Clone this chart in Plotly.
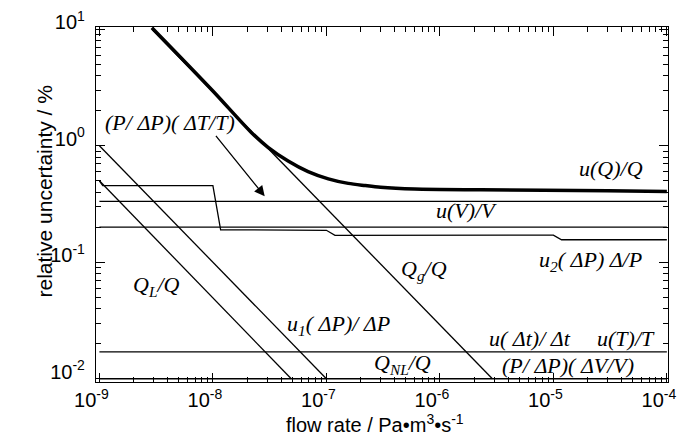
import plotly.graph_objects as go
import numpy as np

# ---- data ----
x_min, x_max = 1e-9, 1e-4

# total relative uncertainty u(Q)/Q (thick curve)
uQ_x = [2.9e-9, 1e-8, 2.18e-8, 3.06e-8, 4.6e-8, 6.9e-8, 1.04e-7, 1.56e-7, 2.2e-7, 3e-7, 6e-7, 2.3e-6, 3e-5, 1e-4]
uQ_y = [10.3, 2.95, 1.3, 0.97, 0.74, 0.60, 0.52, 0.475, 0.455, 0.44, 0.425, 0.418, 0.41, 0.405]

# constant components
dT_val = 0.333     # (P/ΔP)(ΔT/T)
uV_val = 0.20      # u(V)/V
ut_val = 0.017     # u(Δt)/Δt, u(T)/T
QNL_val = 0.010    # Q_NL/Q, (P/ΔP)(ΔV/V)

# u2(ΔP)/ΔP step line
u2_x = [1e-9, 1.07e-9, 1e-8, 1.17e-8, 1e-7, 1.19e-7, 1e-5, 1.18e-5, 1e-4]
u2_y = [0.50, 0.454, 0.454, 0.19, 0.188, 0.17, 0.171, 0.156, 0.156]

# slope -1 components
u1_x = [1e-9, 1e-7]
u1_y = [1.0, 0.01]
QL_x = [1e-9, 4.9e-8]
QL_y = [0.5, 0.01]
Qg_x = [2.9e-9, 2.9e-6]
Qg_y = [10.0, 0.01]

x_ticks = [1e-9, 1e-8, 1e-7, 1e-6, 1e-5, 1e-4]
x_tick_text = ["10<sup>-9</sup>", "10<sup>-8</sup>", "10<sup>-7</sup>", "10<sup>-6</sup>", "10<sup>-5</sup>", "10<sup>-4</sup>"]
y_ticks = [1e-2, 1e-1, 1e0, 1e1]
y_tick_text = ["10<sup>-2</sup>", "10<sup>-1</sup>", "10<sup>0</sup>", "10<sup>1</sup>"]
minor_digits = [2, 3, 4, 5, 6, 7, 8, 9]

x_minor = [d * t for t in x_ticks[:-1] for d in minor_digits]
y_minor = [d * t for t in y_ticks[:-1] for d in minor_digits]

fig = go.Figure()
thin = dict(color="black", width=1.3)

for yv in [dT_val, uV_val, ut_val, QNL_val]:
    fig.add_trace(go.Scatter(x=[x_min, x_max], y=[yv, yv], mode="lines", line=thin, showlegend=False))

fig.add_trace(go.Scatter(x=u2_x, y=u2_y, mode="lines", line=thin, showlegend=False))
fig.add_trace(go.Scatter(x=u1_x, y=u1_y, mode="lines", line=thin, showlegend=False))
fig.add_trace(go.Scatter(x=QL_x, y=QL_y, mode="lines", line=thin, showlegend=False))
fig.add_trace(go.Scatter(x=Qg_x, y=Qg_y, mode="lines", line=thin, showlegend=False))
fig.add_trace(go.Scatter(x=uQ_x, y=uQ_y, mode="lines",
                         line=dict(color="black", width=3.5, shape="spline", smoothing=0.8),
                         showlegend=False))

tick_font = dict(family="Liberation Sans, Arial", size=20, color="black")
axis_common = dict(
    type="log", showline=True, linecolor="black", linewidth=1.3, mirror="ticks",
    ticks="inside", ticklen=9, tickwidth=1.2, tickcolor="black",
    showgrid=False, zeroline=False, tickfont=tick_font, automargin=False,
    ticklabeloverflow="allow",
)

fig.update_xaxes(range=[np.log10(x_min) - 0.03, np.log10(x_max) + 0.01],
                 tickmode="array", tickvals=x_ticks, ticktext=x_tick_text,
                 minor=dict(tickmode="array", tickvals=x_minor, ticks="inside", ticklen=5,
                            tickwidth=1, tickcolor="black", showgrid=False),
                 ticklabelstandoff=0, ticklabelshift=-8, **axis_common)
fig.update_yaxes(range=[-2.028, 1.019],
                 tickmode="array", tickvals=y_ticks, ticktext=y_tick_text,
                 minor=dict(tickmode="array", tickvals=y_minor, ticks="inside", ticklen=5,
                            tickwidth=1, tickcolor="black", showgrid=False),
                 ticklabelstandoff=6, ticklabelshift=-7, **axis_common)

lab_font = dict(family="Liberation Serif, Times New Roman", size=22, color="black", style="italic")

labels = [
    ("(P/ ΔP)( ΔT/T)", 162, 115),
    ("u(Q)/Q", 603, 160),
    ("u(V)/V", 458, 202),
    ("u<sub>2</sub>( ΔP) Δ/P", 582, 253),
    ("Q<sub>g</sub>/Q", 416, 262),
    ("u<sub>1</sub>( ΔP)/ ΔP", 330, 317),
    ("Q<sub>L</sub>/Q", 148, 278),
    ("u( Δt)/ Δt", 522, 330),
    ("u(T)/T", 618, 330),
    ("Q<sub>NL</sub>/Q", 394, 356),
    ("(P/ ΔP)( ΔV/V)", 560, 357),
]

L, R, T, B = 88, 660, 19, 374
def px2paper(px, py):
    return (px - L) / (R - L), (B - py) / (B - T)

for text, px, py in labels:
    xp, yp = px2paper(px, py)
    fig.add_annotation(text=text, x=xp, y=yp, xref="paper", yref="paper",
                       showarrow=False, font=lab_font, xanchor="center", yanchor="middle")

# arrow
hx, hy = px2paper(256.7, 188.3)
fig.add_annotation(x=hx, y=hy, xref="paper", yref="paper", ax=-50, ay=-62,
                   text="", showarrow=True, arrowhead=2, arrowsize=1.6, arrowwidth=1.3,
                   arrowcolor="black")

# axis titles
xp, yp = px2paper(22, 184)
fig.add_annotation(text="relative uncertainty / %", x=xp, y=yp, xref="paper", yref="paper",
                   showarrow=False, textangle=-90,
                   font=dict(family="Liberation Sans, Arial", size=21, color="black"))
xp, yp = px2paper(367, 430)
fig.add_annotation(text="flow rate / Pa•m<sup>3</sup>•s<sup>-1</sup>", x=xp, y=yp, xref="paper", yref="paper",
                   showarrow=False,
                   font=dict(family="Liberation Sans, Arial", size=20, color="black"))

fig.update_layout(width=687, height=443, margin=dict(l=L, r=687 - R, t=T, b=443 - B),
                  plot_bgcolor="white", paper_bgcolor="white")

fig.write_html("out.html")
